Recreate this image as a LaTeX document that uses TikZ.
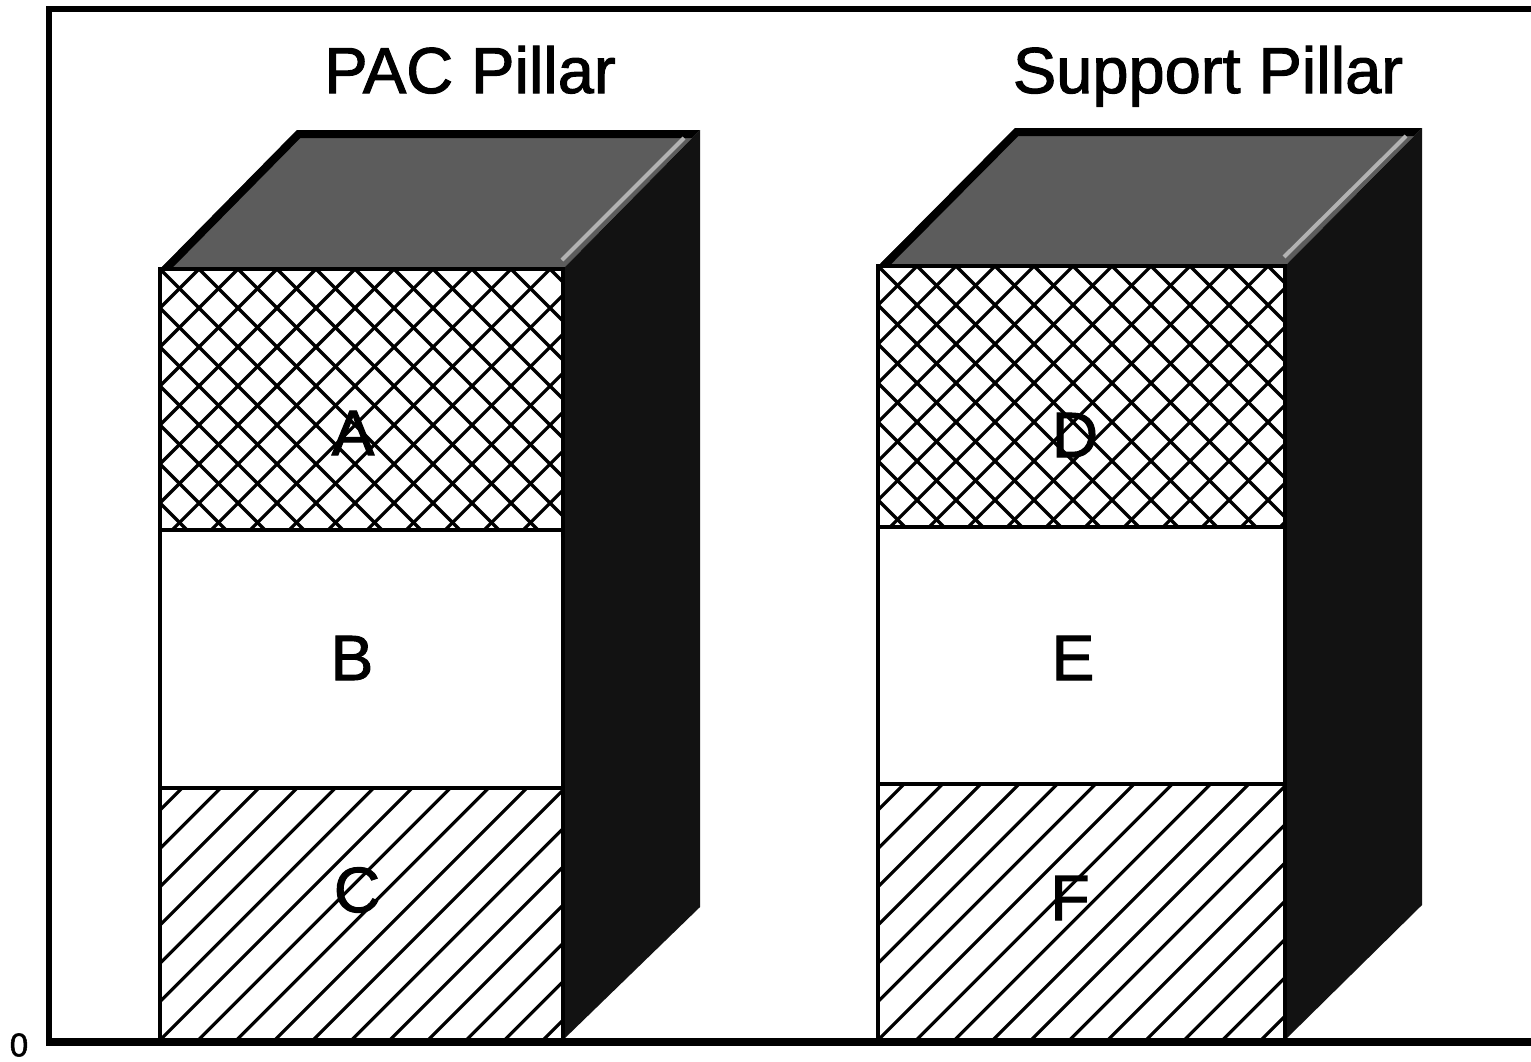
\documentclass[tikz,border=0pt]{standalone}
\usepackage{fontspec}
\setmainfont{Liberation Sans}
\newfontfamily\medfont[BoldFont={Liberation Sans}, BoldFeatures={FakeBold=1.6}]{Liberation Sans}
\tikzset{
  frameline/.style={line width=6pt, line cap=rect},
  hatchline/.style={line width=3.2pt},
  faceedge/.style={line width=3.8pt, line join=miter},
  topfill/.style={fill=black!64},
  sidefill/.style={fill=black!93},
  topborder/.style={line width=16pt, line join=miter},
  highlight/.style={line width=4pt, black!30},
  titletext/.style={font=\medfont\bfseries\fontsize{65}{70}\selectfont, anchor=base},
  seglabel/.style={font=\medfont\bfseries\fontsize{64}{70}\selectfont},
  zerolabel/.style={font=\medfont\bfseries\fontsize{33}{36}\selectfont},
}
% #1 xl, #2 xr, #3 ytop, #4 y(1/2), #5 y(2/3), #6 ybot, #7 dx, #8 dy, #9 side bottom
\newcommand\drawpillar[9]{%
  % top face
  \fill[topfill] (#1,#3) -- (#1+#7,#3-#8) -- (#2+#7,#3-#8) -- (#2,#3) -- cycle;
  \begin{scope}
    \clip (#1,#3) -- (#1+#7,#3-#8) -- (#2+#7,#3-#8) -- (#2,#3) -- cycle;
    \draw[topborder] (#1,#3) -- (#1+#7,#3-#8) -- (#2+#7,#3-#8);
    \draw[highlight] (#2-1,#3-9) -- (#2+#7-16,#3-#8+8);
  \end{scope}
  % side face
  \fill[sidefill] (#2,#3) -- (#2+#7,#3-#8) -- (#2+#7,#9) -- (#2,#6) -- cycle;
  % crosshatch top segment
  \begin{scope}
    \clip (#1,#3) rectangle (#2,#4);
    \foreach \k in {-12,...,24} {
      \draw[hatchline] (#1+\k*39,#3) -- ++(420,420);
      \draw[hatchline] (#1+\k*39,#3) -- ++(-420,420);
    }
  \end{scope}
  % diagonal hatch bottom segment
  \begin{scope}
    \clip (#1,#5) rectangle (#2,#6);
    \foreach \k in {-10,...,12} {
      \draw[hatchline] (#1+\k*38.3,#6) -- ++(320,-320);
    }
  \end{scope}
  % front face edges
  \draw[faceedge] (#1,#3) rectangle (#2,#6);
  \draw[faceedge] (#1,#4) -- (#2,#4);
  \draw[faceedge] (#1,#5) -- (#2,#5);
}
\begin{document}
\begin{tikzpicture}[x=1pt,y=-1pt]
  \useasboundingbox (0,0) rectangle (1531,1061);
  \fill[white] (0,0) rectangle (1531,1061);

  \drawpillar{160}{563}{269}{530}{788}{1040}{137}{139}{907}
  \drawpillar{878}{1285}{266}{527}{784}{1040}{137}{138}{905}

  % frame
  \draw[frameline] (1531,9) -- (49,9) -- (49,1042);
  \draw[line width=8pt] (46,1042) -- (1531,1042);

  % titles
  \node[titletext] (tpac) at (470,93) {PAC Pillar};
  \node[titletext] (tsup) at (1208,93) {Support Pillar};

  % segment labels
  \node[seglabel] (la) at (353,433) {A};
  \node[seglabel] (lb) at (352,658) {B};
  \node[seglabel] (lc) at (357,890) {C};
  \node[seglabel] (ld) at (1075,435) {D};
  \node[seglabel] (le) at (1073,658) {E};
  \node[seglabel] (lf) at (1070,898) {F};

  \node[zerolabel] (zero) at (19,1045) {0};
\end{tikzpicture}
\end{document}
